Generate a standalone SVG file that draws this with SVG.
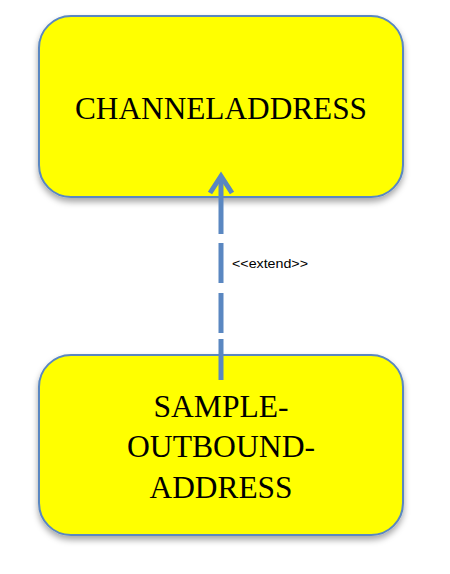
<svg xmlns="http://www.w3.org/2000/svg" width="450" height="574" viewBox="0 0 450 574">
  <defs>
    <filter id="sh" x="-10%" y="-10%" width="120%" height="130%">
      <feDropShadow dx="0" dy="4" stdDeviation="3" flood-color="#000" flood-opacity="0.35"/>
    </filter>
  </defs>
  <style>
    .box { fill: #ffff00; stroke: #5a87c1; stroke-width: 2; filter: url(#sh); }
    .t { font-family: "Liberation Serif", "Times New Roman", serif; font-size: 32px; fill: #000; text-anchor: middle; }
    .lbl { font-family: "Liberation Sans", Arial, sans-serif; font-size: 13.5px; fill: #000; }
    .conn { stroke: #5a87c1; stroke-width: 5; fill: none; }
  </style>
  <rect width="450" height="574" fill="#fff"/>
  <g id="node-channeladdress">
    <rect class="box" x="39" y="16" width="364" height="181" rx="32" ry="32"/>
    <text class="t" x="221" y="119" textLength="292" lengthAdjust="spacingAndGlyphs">CHANNELADDRESS</text>
  </g>
  <g id="node-sample-outbound-address">
    <rect class="box" x="39" y="355" width="364" height="180" rx="32" ry="32"/>
    <text class="t" x="221" y="417" textLength="135" lengthAdjust="spacingAndGlyphs">SAMPLE-</text>
    <text class="t" x="221" y="457" textLength="188" lengthAdjust="spacingAndGlyphs">OUTBOUND-</text>
    <text class="t" x="221" y="498" textLength="143" lengthAdjust="spacingAndGlyphs">ADDRESS</text>
  </g>
  <g id="connectors">
    <path class="conn" d="M221,380 V339 M221,333 V293 M221,283 V243 M221,234 V176"/>
    <path class="conn" d="M210,193 L221,176 L232,193" stroke-linejoin="miter"/>
    <text class="lbl" x="232" y="268" textLength="76" lengthAdjust="spacingAndGlyphs">&lt;&lt;extend&gt;&gt;</text>
  </g>
</svg>
